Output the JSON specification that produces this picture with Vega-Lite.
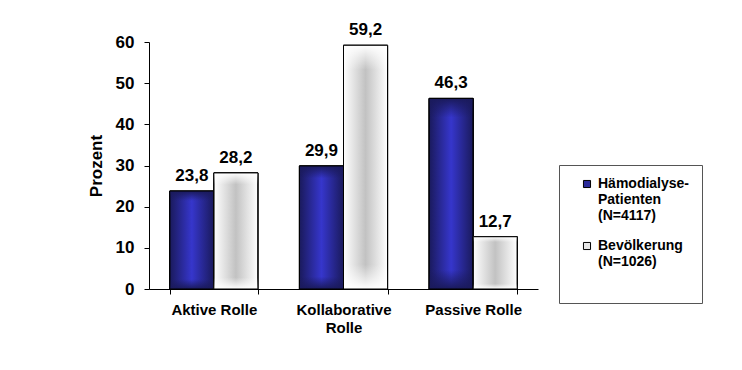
{
  "$schema": "https://vega.github.io/schema/vega-lite/v6.json",
  "width": 389,
  "height": 247,
  "autosize": {"type": "none"},
  "padding": {"left": 149, "top": 42, "right": 204, "bottom": 81},
  "background": "white",
  "config": {
    "font": "Liberation Sans",
    "view": {"stroke": null},
    "axis": {"domainColor": "black", "tickColor": "black", "grid": false, "labelColor": "black", "titleColor": "black", "labelFontWeight": "bold", "titleFontWeight": "bold"}
  },
  "data": {
    "values": [
      {"rolle": "Aktive Rolle", "gruppe": "Hämodialyse-Patienten (N=4117)", "wert": 23.8},
      {"rolle": "Aktive Rolle", "gruppe": "Bevölkerung (N=1026)", "wert": 28.2},
      {"rolle": "Kollaborative Rolle", "gruppe": "Hämodialyse-Patienten (N=4117)", "wert": 29.9},
      {"rolle": "Kollaborative Rolle", "gruppe": "Bevölkerung (N=1026)", "wert": 59.2},
      {"rolle": "Passive Rolle", "gruppe": "Hämodialyse-Patienten (N=4117)", "wert": 46.3},
      {"rolle": "Passive Rolle", "gruppe": "Bevölkerung (N=1026)", "wert": 12.7}
    ]
  },
  "transform": [
    {"calculate": "replace(format(datum.wert, '.1f'), '.', ',')", "as": "beschriftung"}
  ],
  "encoding": {
    "x": {
      "field": "rolle", "type": "nominal", "sort": null,
      "scale": {"paddingInner": 0.32, "paddingOuter": 0.16},
      "axis": {
        "title": null, "labelAngle": 0, "labelFontSize": 15, "labelPadding": 8, "tickSize": 5,
        "tickBand": "extent", "labelLineHeight": 18,
        "labelExpr": "datum.label == 'Kollaborative Rolle' ? ['Kollaborative', 'Rolle'] : datum.label"
      }
    },
    "xOffset": {"field": "gruppe", "type": "nominal", "sort": ["Hämodialyse-Patienten (N=4117)", "Bevölkerung (N=1026)"]},
    "y": {
      "field": "wert", "type": "quantitative",
      "scale": {"domain": [0, 60], "nice": false},
      "axis": {"title": "Prozent", "values": [0, 10, 20, 30, 40, 50, 60], "labelFontSize": 17, "titleFontSize": 17, "tickSize": 5, "labelPadding": 10, "titlePadding": 10}
    }
  },
  "layer": [
    {
      "mark": {"type": "bar", "stroke": "black", "strokeWidth": 1},
      "encoding": {
        "color": {
          "field": "gruppe", "type": "nominal",
          "scale": {"domain": ["Hämodialyse-Patienten (N=4117)", "Bevölkerung (N=1026)"], "range": ["#2a2a99", "#e6e6e6"]},
          "legend": {
            "title": " ", "titleOrient": "bottom", "titleFontSize": 14, "titlePadding": 8,
            "orient": "none", "legendX": 410, "legendY": 123,
            "padding": 12, "symbolOffset": 9,
            "strokeColor": "#555555", "fillColor": "white",
            "symbolType": "square", "symbolSize": 50, "symbolStrokeColor": "black", "symbolStrokeWidth": 1,
            "labelFontSize": 14, "labelFontWeight": "bold", "labelColor": "black", "labelLineHeight": 15.5,
            "labelOffset": 4, "labelLimit": 200, "rowPadding": 16,
            "labelExpr": "datum.label == 'Bevölkerung (N=1026)' ? ['Bevölkerung', '(N=1026)'] : ['Hämodialyse-', 'Patienten', '(N=4117)']"
          }
        }
      }
    },
    {
      "transform": [{"filter": "datum.gruppe == 'Hämodialyse-Patienten (N=4117)'"}],
      "mark": {
        "type": "bar", "stroke": "black", "strokeWidth": 1,
        "color": {"gradient": "linear", "x1": 0, "x2": 1, "y1": 0, "y2": 0,
          "stops": [{"offset": 0, "color": "#1a1a5c"}, {"offset": 0.5, "color": "#3636cc"}, {"offset": 1, "color": "#1a1a5c"}]}
      }
    },
    {
      "transform": [{"filter": "datum.gruppe == 'Hämodialyse-Patienten (N=4117)'"}],
      "mark": {
        "type": "bar", "stroke": "black", "strokeWidth": 1,
        "color": {"gradient": "linear", "x1": 0, "x2": 0, "y1": 0, "y2": 1,
          "stops": [{"offset": 0, "color": "rgba(26,26,92,1)"}, {"offset": 0.1, "color": "rgba(26,26,92,0)"}, {"offset": 0.9, "color": "rgba(26,26,92,0)"}, {"offset": 1, "color": "rgba(26,26,92,1)"}]}
      }
    },
    {
      "transform": [{"filter": "datum.gruppe == 'Bevölkerung (N=1026)'"}],
      "mark": {
        "type": "bar", "stroke": "black", "strokeWidth": 1,
        "color": {"gradient": "linear", "x1": 0, "x2": 1, "y1": 0, "y2": 0,
          "stops": [{"offset": 0, "color": "#ffffff"}, {"offset": 0.5, "color": "#c2c2c2"}, {"offset": 1, "color": "#ffffff"}]}
      }
    },
    {
      "transform": [{"filter": "datum.gruppe == 'Bevölkerung (N=1026)'"}],
      "mark": {
        "type": "bar", "stroke": "black", "strokeWidth": 1,
        "color": {"gradient": "linear", "x1": 0, "x2": 0, "y1": 0, "y2": 1,
          "stops": [{"offset": 0, "color": "rgba(255,255,255,1)"}, {"offset": 0.1, "color": "rgba(255,255,255,0)"}, {"offset": 0.9, "color": "rgba(255,255,255,0)"}, {"offset": 1, "color": "rgba(255,255,255,1)"}]}
      }
    },
    {
      "mark": {"type": "text", "baseline": "bottom", "dy": -6, "fontSize": 17, "fontWeight": "bold", "color": "black"},
      "encoding": {"text": {"field": "beschriftung"}}
    }
  ]
}
